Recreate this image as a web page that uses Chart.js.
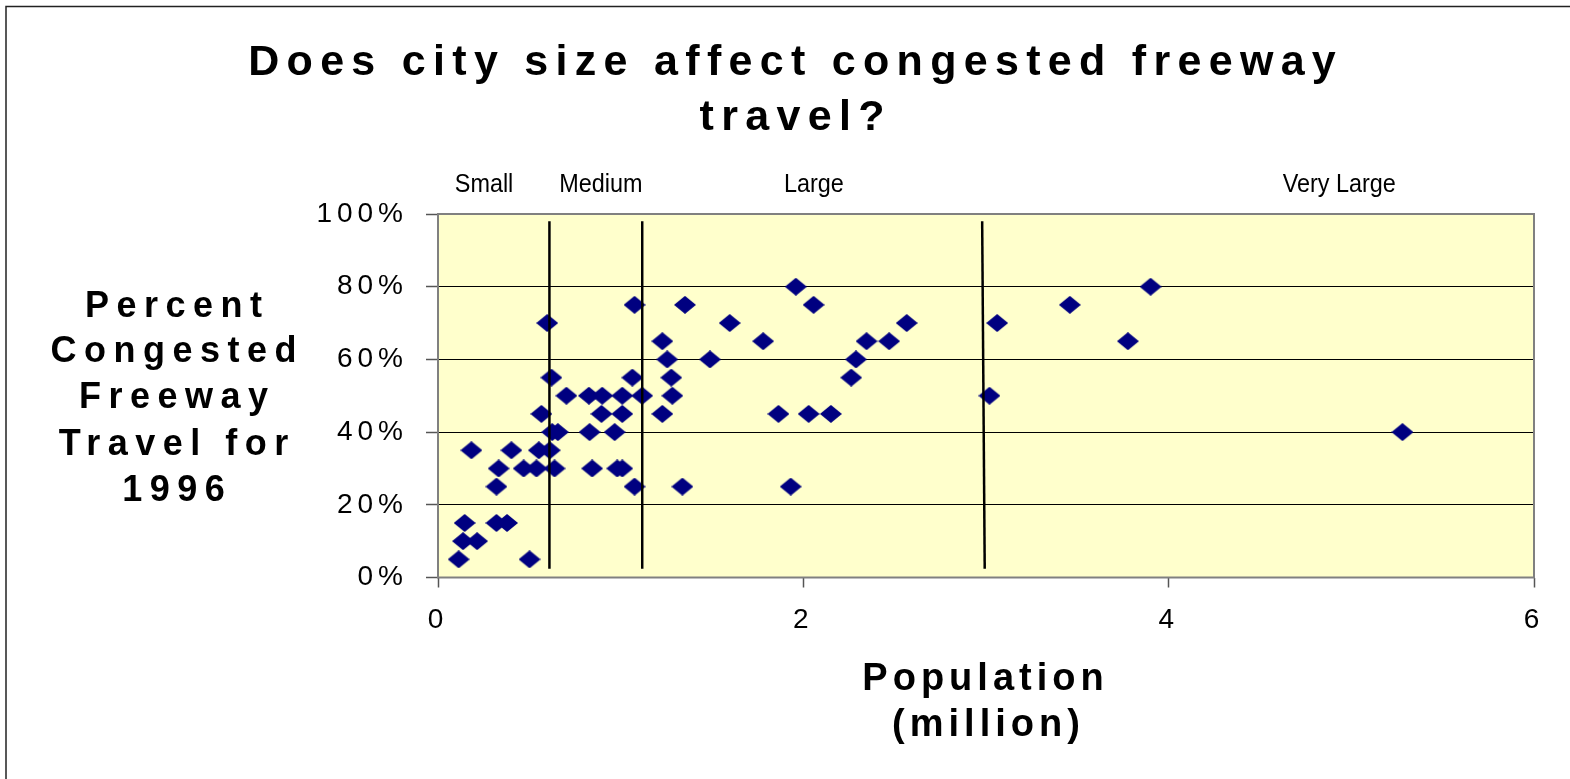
<!DOCTYPE html>
<html><head><meta charset="utf-8">
<script src="https://cdn.jsdelivr.net/npm/chart.js@4"></script>
<style>html,body{margin:0;padding:0;background:#fff;}canvas{display:block;}</style>
</head><body>
<canvas id="c" width="1570" height="779"></canvas>
<script>
// ---- text ----
const titleLines = ['Does city size affect congested freeway', 'travel?'];
const yTitleLines = ['Percent', 'Congested', 'Freeway', 'Travel for', '1996'];
const xTitleLines = ['Population', '(million)'];
const zoneNames = ['Small', 'Medium', 'Large', 'Very Large'];
const zoneLabelX = [0.252, 0.892, 2.058, 4.934];

// ---- size-class dividers (population, million) ----
const dividerTopX = [0.61, 1.118, 2.979];
const dividerBottomX = [0.61, 1.118, 2.993];
const dividerSpanY = [98, 2.4];

// ---- ticks ----
const xTicks = [0, 2, 4, 6];
const yTicks = [0, 20, 40, 60, 80, 100];

// ---- data: population (million) and percent congested freeway travel ----
const population = [
  0.598, 1.076, 1.352, 1.597, 1.228, 1.255, 1.489, 0.621, 1.064, 1.277,
  0.703, 0.826, 0.899, 1.009, 1.118, 1.283,
  0.566, 0.895, 1.009, 1.228,
  0.625, 0.656, 0.830, 0.967,
  0.183, 0.402, 0.552, 0.612,
  0.332, 0.469, 0.539, 0.638, 0.844, 0.981, 1.009,
  0.320, 1.076, 1.338,
  0.146, 0.320, 0.378,
  0.137, 0.214,
  0.113, 0.501,
  1.959, 2.056, 1.780, 2.566, 2.346, 2.470, 2.288, 2.262, 1.864, 2.029, 2.151, 1.931, 3.061, 3.019,
  3.459, 3.901, 3.777, 5.280
];
const congestedPct = [
  70, 75, 75, 70, 65, 60, 60, 55, 55, 55,
  50, 50, 50, 50, 50, 50,
  45, 45, 45, 45,
  40, 40, 40, 40,
  35, 35, 35, 35,
  30, 30, 30, 30, 30, 30, 30,
  25, 25, 25,
  15, 15, 15,
  10, 10,
  5, 5,
  80, 75, 65, 70, 65, 65, 60, 55, 45, 45, 45, 25, 70, 50,
  75, 80, 65, 40
];

const FONT = '"Liberation Sans", Arial, Helvetica, sans-serif';

function makeDiamond(w, h, color) {
  const c = document.createElement('canvas');
  c.width = w; c.height = h;
  const g = c.getContext('2d');
  g.fillStyle = color;
  g.beginPath();
  g.moveTo(w / 2, 0); g.lineTo(w, h / 2); g.lineTo(w / 2, h); g.lineTo(0, h / 2);
  g.closePath(); g.fill();
  return c;
}
const diamond = makeDiamond(22, 18, '#000080');

const points = population.map((x, i) => ({ x: x, y: congestedPct[i] }));
const dividerSets = dividerTopX.map((xt, i) => ({
  label: 'divider' + i,
  data: [{ x: xt, y: dividerSpanY[0] }, { x: dividerBottomX[i], y: dividerSpanY[1] }],
  showLine: true,
  borderColor: '#000',
  borderWidth: 2.5,
  pointRadius: 0,
  fill: false,
  order: 0
}));

function spaced(ctx, text, x, y, ls, align) {
  ctx.letterSpacing = ls + 'px';
  ctx.textAlign = align;
  ctx.fillText(text, align === 'center' ? x + ls / 2 : x, y);
}

const decor = {
  id: 'decor',
  beforeDraw(chart) {
    const { ctx, chartArea: a } = chart;
    ctx.save();
    ctx.fillStyle = '#fff';
    ctx.fillRect(0, 0, chart.width, chart.height);
    ctx.fillStyle = '#FFFFCC';
    ctx.fillRect(a.left, a.top, a.right - a.left, a.bottom - a.top);
    ctx.restore();
    ctx.letterSpacing = '5px';
  },
  beforeDatasetsDraw(chart) {
    const { ctx, chartArea: a } = chart;
    ctx.save();
    ctx.strokeStyle = '#808080';
    ctx.lineWidth = 2;
    ctx.strokeRect(a.left, a.top, a.right - a.left, a.bottom - a.top);
    ctx.restore();
  },
  afterDraw(chart) {
    const { ctx } = chart;
    const xs = chart.scales.x;
    ctx.save();
    ctx.fillStyle = '#000';
    ctx.textBaseline = 'alphabetic';
    // title
    ctx.font = 'bold 43px ' + FONT;
    spaced(ctx, titleLines[0], 792, 75, 7.3, 'center');
    spaced(ctx, titleLines[1], 792, 130, 7.3, 'center');
    // y title
    ctx.font = 'bold 36px ' + FONT;
    const yb = [316.5, 362, 408, 454.5, 500.5];
    yTitleLines.forEach((t, i) => spaced(ctx, t, 173.5, yb[i], 7.5, 'center'));
    // x title
    ctx.font = 'bold 38px ' + FONT;
    spaced(ctx, xTitleLines[0], 983, 690, 5, 'center');
    spaced(ctx, xTitleLines[1], 986, 735.5, 5, 'center');
    // zone labels
    ctx.font = '26px ' + FONT;
    ctx.letterSpacing = '0px';
    ctx.textAlign = 'center';
    zoneNames.forEach((n, i) => {
      ctx.save();
      ctx.translate(xs.getPixelForValue(zoneLabelX[i]), 191.5);
      ctx.scale(0.9, 1);
      ctx.fillText(n, 0, 0);
      ctx.restore();
    });
    // outer frame (left and top)
    ctx.strokeStyle = '#222';
    ctx.lineWidth = 1.5;
    ctx.beginPath();
    ctx.moveTo(6, chart.height); ctx.lineTo(6, 6.5); ctx.lineTo(chart.width, 6.5);
    ctx.stroke();
    ctx.restore();
  }
};

new Chart(document.getElementById('c'), {
  type: 'scatter',
  data: {
    datasets: [
      ...dividerSets,
      {
        label: 'Cities',
        data: points,
        pointStyle: diamond,
        pointRadius: 10,
        pointHoverRadius: 10,
        order: 1
      }
    ]
  },
  options: {
    responsive: false,
    animation: false,
    devicePixelRatio: 1,
    layout: { padding: { top: 214, right: 36, left: 0, bottom: 0 } },
    plugins: { legend: { display: false }, title: { display: false }, tooltip: { enabled: false } },
    scales: {
      x: {
        type: 'linear', min: 0, max: 6,
        afterBuildTicks: s => { s.ticks = xTicks.map(v => ({ value: v })); },
        afterFit: s => { s.height = 201.5; },
        grid: { drawOnChartArea: false, drawTicks: true, tickLength: 10, tickColor: '#555', tickWidth: 1.5 },
        border: { display: false },
        ticks: { font: { family: FONT, size: 28 }, color: '#000', padding: 16, maxRotation: 0, autoSkip: false }
      },
      y: {
        type: 'linear', min: 0, max: 100,
        afterBuildTicks: s => { s.ticks = yTicks.map(v => ({ value: v })); },
        afterFit: s => { s.width = 438; },
        grid: { color: '#000', lineWidth: 1, tickLength: 12, tickColor: '#555', tickWidth: 1.5 },
        border: { display: false },
        ticks: { font: { family: FONT, size: 28 }, color: '#000', padding: 18, callback: v => v + '%' }
      }
    }
  },
  plugins: [decor]
});
</script>
</body></html>
